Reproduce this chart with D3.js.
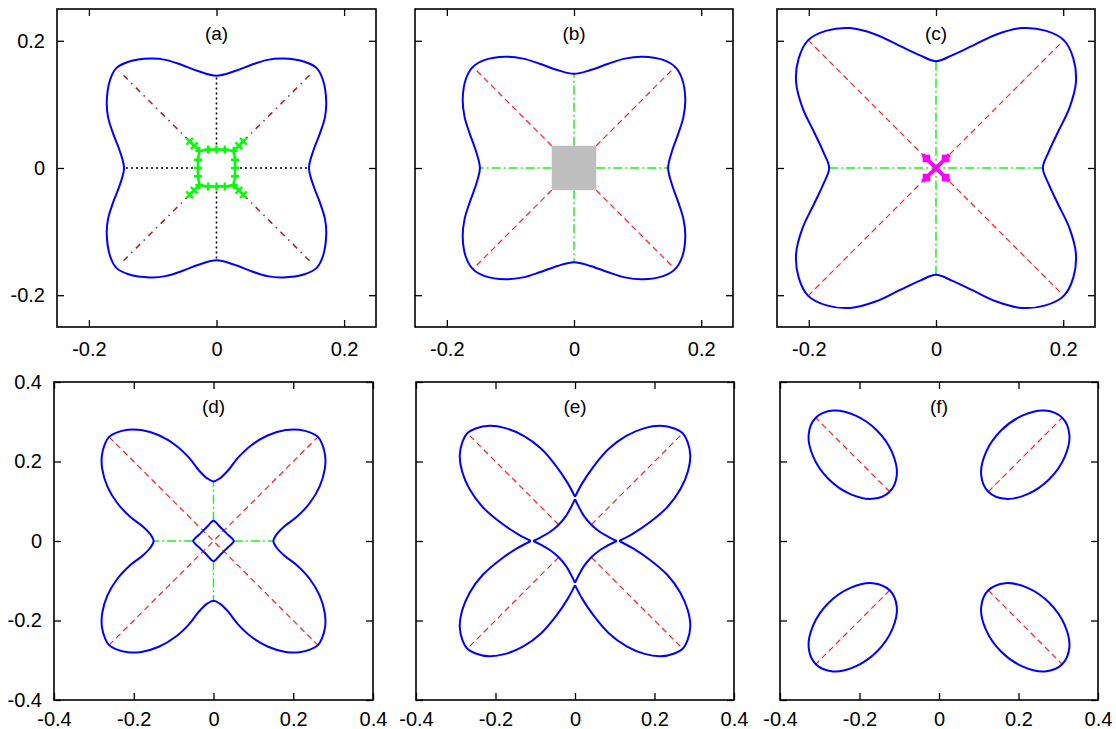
<!DOCTYPE html>
<html>
<head>
<meta charset="utf-8">
<script src="https://cdn.jsdelivr.net/npm/d3@7/dist/d3.min.js"></script>
<style>
  body { margin: 0; background: #fff; }
  svg text { font-family: "Liberation Sans", Arial, sans-serif; }
</style>
</head>
<body>
<div id="chart"></div>
<script>
// axis ticks and labels
const topDomain = [-0.25, 0.25];
const topTicks = [-0.2, 0, 0.2];
const bottomDomain = [-0.4, 0.4];
const bottomTicks = [-0.4, -0.2, 0, 0.2, 0.4];
const panelLabels = ["(a)", "(b)", "(c)", "(d)", "(e)", "(f)"];

// (a) outer boundary, green square (+) and diagonal arms (x)
const aCurve = [
  [0.145,0],[0.152,0.028],[0.162,0.054],[0.170,0.080],[0.172,0.104],[0.167,0.138],[0.157,0.157],[0.138,0.167],[0.104,0.172],[0.080,0.170],[0.054,0.162],[0.028,0.152],
  [0,0.145],[-0.028,0.152],[-0.054,0.162],[-0.080,0.170],[-0.104,0.172],[-0.138,0.167],[-0.157,0.157],[-0.167,0.138],[-0.172,0.104],[-0.170,0.080],[-0.162,0.054],[-0.152,0.028],
  [-0.145,0],[-0.152,-0.028],[-0.162,-0.054],[-0.170,-0.080],[-0.172,-0.104],[-0.167,-0.138],[-0.157,-0.157],[-0.138,-0.167],[-0.104,-0.172],[-0.080,-0.170],[-0.054,-0.162],[-0.028,-0.152],
  [0,-0.145],[0.028,-0.152],[0.054,-0.162],[0.080,-0.170],[0.104,-0.172],[0.138,-0.167],[0.157,-0.157],[0.167,-0.138],[0.172,-0.104],[0.170,-0.080],[0.162,-0.054],[0.152,-0.028]
];
const aSquare = [
  [-0.027,0.027],[-0.013,0.029],[0,0.029],[0.013,0.029],[0.027,0.027],[0.029,0.013],[0.029,0],[0.029,-0.013],
  [0.027,-0.027],[0.013,-0.029],[0,-0.029],[-0.013,-0.029],[-0.027,-0.027],[-0.029,-0.013],[-0.029,0],[-0.029,0.013]
];
const aArms = [
  [[0.027,0.027],[0.035,0.035],[0.042,0.042]],
  [[-0.027,0.027],[-0.035,0.035],[-0.042,0.042]],
  [[-0.027,-0.027],[-0.035,-0.035],[-0.042,-0.042]],
  [[0.027,-0.027],[0.035,-0.035],[0.042,-0.042]]
];
const aAxisLines = [
  [[0,0.029],[0,0.145]], [[0,-0.029],[0,-0.145]], [[0.029,0],[0.145,0]], [[-0.029,0],[-0.145,0]]
];
const aDiagLines = [
  [[0.042,0.042],[0.151,0.151]], [[-0.042,0.042],[-0.151,0.151]],
  [[-0.042,-0.042],[-0.151,-0.151]], [[0.042,-0.042],[0.151,-0.151]]
];

// (b) outer boundary and grey core
const bCurve = [
  [0.148,0],[0.154,0.026],[0.164,0.054],[0.172,0.080],[0.175,0.108],[0.170,0.140],[0.159,0.159],[0.140,0.170],[0.108,0.175],[0.080,0.172],[0.054,0.164],[0.026,0.154],
  [0,0.148],[-0.026,0.154],[-0.054,0.164],[-0.080,0.172],[-0.108,0.175],[-0.140,0.170],[-0.159,0.159],[-0.170,0.140],[-0.175,0.108],[-0.172,0.080],[-0.164,0.054],[-0.154,0.026],
  [-0.148,0],[-0.154,-0.026],[-0.164,-0.054],[-0.172,-0.080],[-0.175,-0.108],[-0.170,-0.140],[-0.159,-0.159],[-0.140,-0.170],[-0.108,-0.175],[-0.080,-0.172],[-0.054,-0.164],[-0.026,-0.154],
  [0,-0.148],[0.026,-0.154],[0.054,-0.164],[0.080,-0.172],[0.108,-0.175],[0.140,-0.170],[0.159,-0.159],[0.170,-0.140],[0.175,-0.108],[0.172,-0.080],[0.164,-0.054],[0.154,-0.026]
];
const bCore = [[-0.035,0.035],[0.035,-0.035]];
const bAxisLines = [
  [[0,0.035],[0,0.148]], [[0,-0.035],[0,-0.148]], [[0.035,0],[0.148,0]], [[-0.035,0],[-0.148,0]]
];
const bDiagLines = [
  [[0.035,0.035],[0.158,0.158]], [[-0.035,0.035],[-0.158,0.158]],
  [[-0.035,-0.035],[-0.158,-0.158]], [[0.035,-0.035],[0.158,-0.158]]
];

// (c) outer boundary and magenta core
const cCurve = [
  [0.168,0],[0.177,0.025],[0.192,0.057],[0.210,0.095],[0.220,0.135],[0.216,0.172],[0.201,0.201],[0.172,0.216],[0.135,0.220],[0.095,0.210],[0.057,0.192],[0.025,0.177],
  [0,0.168],[-0.025,0.177],[-0.057,0.192],[-0.095,0.210],[-0.135,0.220],[-0.172,0.216],[-0.201,0.201],[-0.216,0.172],[-0.220,0.135],[-0.210,0.095],[-0.192,0.057],[-0.177,0.025],
  [-0.168,0],[-0.177,-0.025],[-0.192,-0.057],[-0.210,-0.095],[-0.220,-0.135],[-0.216,-0.172],[-0.201,-0.201],[-0.172,-0.216],[-0.135,-0.220],[-0.095,-0.210],[-0.057,-0.192],[-0.025,-0.177],
  [0,-0.168],[0.025,-0.177],[0.057,-0.192],[0.095,-0.210],[0.135,-0.220],[0.172,-0.216],[0.201,-0.201],[0.216,-0.172],[0.220,-0.135],[0.210,-0.095],[0.192,-0.057],[0.177,-0.025]
];
const cCoreLines = [ [[-0.021,0.021],[0.021,-0.021]], [[-0.021,-0.021],[0.021,0.021]] ];
const cCorePoints = [[-0.015,0.015],[0.015,0.015],[-0.015,-0.015],[0.015,-0.015]];
const cAxisLines = [ [[0,-0.168],[0,0.168]], [[-0.168,0],[0.168,0]] ];
const cDiagLines = [ [[-0.201,-0.201],[0.201,0.201]], [[-0.201,0.201],[0.201,-0.201]] ];

// (d) outer boundary and inner loop
const dCurve = [
  [0.150,0],[0.157,0.015],[0.178,0.037],[0.209,0.061],[0.241,0.095],[0.266,0.137],[0.279,0.181],[0.280,0.215],[0.272,0.245],[0.262,0.262],[0.245,0.272],[0.215,0.280],[0.181,0.279],[0.137,0.266],[0.095,0.241],[0.061,0.209],[0.037,0.178],[0.015,0.157],
  [0,0.150],[-0.015,0.157],[-0.037,0.178],[-0.061,0.209],[-0.095,0.241],[-0.137,0.266],[-0.181,0.279],[-0.215,0.280],[-0.245,0.272],[-0.262,0.262],[-0.272,0.245],[-0.280,0.215],[-0.279,0.181],[-0.266,0.137],[-0.241,0.095],[-0.209,0.061],[-0.178,0.037],[-0.157,0.015],
  [-0.150,0],[-0.157,-0.015],[-0.178,-0.037],[-0.209,-0.061],[-0.241,-0.095],[-0.266,-0.137],[-0.279,-0.181],[-0.280,-0.215],[-0.272,-0.245],[-0.262,-0.262],[-0.245,-0.272],[-0.215,-0.280],[-0.181,-0.279],[-0.137,-0.266],[-0.095,-0.241],[-0.061,-0.209],[-0.037,-0.178],[-0.015,-0.157],
  [0,-0.150],[0.015,-0.157],[0.037,-0.178],[0.061,-0.209],[0.095,-0.241],[0.137,-0.266],[0.181,-0.279],[0.215,-0.280],[0.245,-0.272],[0.262,-0.262],[0.272,-0.245],[0.280,-0.215],[0.279,-0.181],[0.266,-0.137],[0.241,-0.095],[0.209,-0.061],[0.178,-0.037],[0.157,-0.015]
];
const dInner = [
  [0.051,0],[0.047,0.006],[0.037,0.015],[0.026,0.026],[0.015,0.037],[0.006,0.047],
  [0,0.051],[-0.006,0.047],[-0.015,0.037],[-0.026,0.026],[-0.037,0.015],[-0.047,0.006],
  [-0.051,0],[-0.047,-0.006],[-0.037,-0.015],[-0.026,-0.026],[-0.015,-0.037],[-0.006,-0.047],
  [0,-0.051],[0.006,-0.047],[0.015,-0.037],[0.026,-0.026],[0.037,-0.015],[0.047,-0.006]
];
const dAxisLines = [
  [[0,0.051],[0,0.150]], [[0,-0.051],[0,-0.150]], [[0.051,0],[0.150,0]], [[-0.051,0],[-0.150,0]]
];
const dDiagLines = [ [[-0.262,-0.262],[0.262,0.262]], [[-0.262,0.262],[0.262,-0.262]] ];

// (e) four petals meeting near the axes, and the inner star
const ePetals = [
  [[0.111,0],[0.145,0.018],[0.188,0.047],[0.232,0.085],[0.265,0.130],[0.284,0.175],[0.290,0.215],[0.283,0.250],[0.271,0.271],[0.250,0.283],[0.215,0.290],[0.175,0.284],[0.130,0.265],[0.085,0.232],[0.047,0.188],[0.018,0.145],[0,0.111]],
  [[0,0.111],[-0.018,0.145],[-0.047,0.188],[-0.085,0.232],[-0.130,0.265],[-0.175,0.284],[-0.215,0.290],[-0.250,0.283],[-0.271,0.271],[-0.283,0.250],[-0.290,0.215],[-0.284,0.175],[-0.265,0.130],[-0.232,0.085],[-0.188,0.047],[-0.145,0.018],[-0.111,0]],
  [[-0.111,0],[-0.145,-0.018],[-0.188,-0.047],[-0.232,-0.085],[-0.265,-0.130],[-0.284,-0.175],[-0.290,-0.215],[-0.283,-0.250],[-0.271,-0.271],[-0.250,-0.283],[-0.215,-0.290],[-0.175,-0.284],[-0.130,-0.265],[-0.085,-0.232],[-0.047,-0.188],[-0.018,-0.145],[0,-0.111]],
  [[0,-0.111],[0.018,-0.145],[0.047,-0.188],[0.085,-0.232],[0.130,-0.265],[0.175,-0.284],[0.215,-0.290],[0.250,-0.283],[0.271,-0.271],[0.283,-0.250],[0.290,-0.215],[0.284,-0.175],[0.265,-0.130],[0.232,-0.085],[0.188,-0.047],[0.145,-0.018],[0.111,0]]
];
const eInner = [
  [[0.105,0],[0.085,0.010],[0.064,0.022],[0.041,0.041],[0.022,0.064],[0.010,0.085],[0,0.105]],
  [[0,0.105],[-0.010,0.085],[-0.022,0.064],[-0.041,0.041],[-0.064,0.022],[-0.085,0.010],[-0.105,0]],
  [[-0.105,0],[-0.085,-0.010],[-0.064,-0.022],[-0.041,-0.041],[-0.022,-0.064],[-0.010,-0.085],[0,-0.105]],
  [[0,-0.105],[0.010,-0.085],[0.022,-0.064],[0.041,-0.041],[0.064,-0.022],[0.085,-0.010],[0.105,0]]
];
const eDiagLines = [
  [[0.041,0.041],[0.271,0.271]], [[-0.041,0.041],[-0.271,0.271]],
  [[-0.041,-0.041],[-0.271,-0.271]], [[0.041,-0.041],[0.271,-0.271]]
];

// (f) four separate loops
const fLoops = [
  [[0.310,0.310],[0.267,0.328],[0.211,0.316],[0.156,0.278],[0.118,0.223],[0.106,0.167],[0.124,0.124],[0.167,0.106],[0.223,0.118],[0.278,0.156],[0.316,0.211],[0.328,0.267]],
  [[-0.310,0.310],[-0.267,0.328],[-0.211,0.316],[-0.156,0.278],[-0.118,0.223],[-0.106,0.167],[-0.124,0.124],[-0.167,0.106],[-0.223,0.118],[-0.278,0.156],[-0.316,0.211],[-0.328,0.267]],
  [[-0.310,-0.310],[-0.267,-0.328],[-0.211,-0.316],[-0.156,-0.278],[-0.118,-0.223],[-0.106,-0.167],[-0.124,-0.124],[-0.167,-0.106],[-0.223,-0.118],[-0.278,-0.156],[-0.316,-0.211],[-0.328,-0.267]],
  [[0.310,-0.310],[0.267,-0.328],[0.211,-0.316],[0.156,-0.278],[0.118,-0.223],[0.106,-0.167],[0.124,-0.124],[0.167,-0.106],[0.223,-0.118],[0.278,-0.156],[0.316,-0.211],[0.328,-0.267]]
];
const fDiagLines = [
  [[0.124,0.124],[0.310,0.310]], [[-0.124,0.124],[-0.310,0.310]],
  [[-0.124,-0.124],[-0.310,-0.310]], [[0.124,-0.124],[0.310,-0.310]]
];

// styles
const BLUE = "#0000ff", RED = "#ff2020", GREEN = "#22ee22", BROWN = "#a52a2a", MAGENTA = "#ff00ff";

const svg = d3.select("#chart").append("svg")
  .attr("width", 1116)
  .attr("height", 729);

// panel frames in pixels
const panels = [
  { box: [57, 9, 376, 327],  domain: topDomain,    ticks: topTicks,    yLabels: true,  pad: 15 },
  { box: [415, 9, 733, 327], domain: topDomain,    ticks: topTicks,    yLabels: false, pad: 15 },
  { box: [777, 9, 1095, 327], domain: topDomain,   ticks: topTicks,    yLabels: false, pad: 15 },
  { box: [54, 382, 373, 700], domain: bottomDomain, ticks: bottomTicks, yLabels: true,  pad: 12 },
  { box: [416, 382, 734, 700], domain: bottomDomain, ticks: bottomTicks, yLabels: false, pad: 12 },
  { box: [780, 382, 1098, 700], domain: bottomDomain, ticks: bottomTicks, yLabels: false, pad: 12 }
];

const fmt = d => d === 0 ? "0" : String(d);

function setupPanel(p, i) {
  const [x0, y0, x1, y1] = p.box;
  const x = d3.scaleLinear().domain(p.domain).range([x0, x1]);
  const y = d3.scaleLinear().domain(p.domain).range([y1, y0]);
  const g = svg.append("g");

  const styleAxis = a => {
    a.select(".domain").remove();
    a.selectAll(".tick line").attr("stroke", "#000").attr("stroke-width", 1.3);
    a.selectAll("text").attr("fill", "#000").style("font-size", "20px")
      .style("font-family", "'Liberation Sans', Arial, sans-serif");
  };

  g.append("g").attr("transform", `translate(0,${y1})`)
    .call(d3.axisBottom(x).tickValues(p.ticks).tickSizeInner(-7).tickSizeOuter(0).tickPadding(p.pad).tickFormat(fmt))
    .call(styleAxis);
  g.append("g").attr("transform", `translate(0,${y0})`)
    .call(d3.axisTop(x).tickValues(p.ticks).tickSizeInner(-7).tickSizeOuter(0).tickFormat(""))
    .call(styleAxis);
  g.append("g").attr("transform", `translate(${x0},0)`)
    .call(d3.axisLeft(y).tickValues(p.ticks).tickSizeInner(-7).tickSizeOuter(0).tickPadding(12)
      .tickFormat(p.yLabels ? fmt : ""))
    .call(styleAxis);
  g.append("g").attr("transform", `translate(${x1},0)`)
    .call(d3.axisRight(y).tickValues(p.ticks).tickSizeInner(-7).tickSizeOuter(0).tickFormat(""))
    .call(styleAxis);

  g.append("rect")
    .attr("x", x0).attr("y", y0)
    .attr("width", x1 - x0).attr("height", y1 - y0)
    .attr("fill", "none").attr("stroke", "#000").attr("stroke-width", 1.6);

  g.append("text")
    .attr("x", x(0)).attr("y", y0 + 31)
    .attr("text-anchor", "middle")
    .style("font-size", "19px")
    .attr("fill", "#000")
    .text(panelLabels[i]);

  return { g, x, y };
}

function drawLines(P, segs, color, width, dash) {
  const line = d3.line().x(d => P.x(d[0])).y(d => P.y(d[1]));
  P.g.append("g").selectAll("path").data(segs).join("path")
    .attr("d", line)
    .attr("fill", "none")
    .attr("stroke", color)
    .attr("stroke-width", width)
    .attr("stroke-dasharray", dash);
}

function drawCurve(P, pts, closed, color, width) {
  const line = d3.line().x(d => P.x(d[0])).y(d => P.y(d[1]))
    .curve(closed ? d3.curveCatmullRomClosed.alpha(0.5) : d3.curveCatmullRom.alpha(0.5));
  P.g.append("path")
    .attr("d", line(pts))
    .attr("fill", "none")
    .attr("stroke", color)
    .attr("stroke-width", width)
    .attr("stroke-linejoin", "round");
}

const P = panels.map(setupPanel);

// thin dashed lines, kept slightly above 1px to avoid a hairline rendering glitch
const THIN = 1.2;

// (a)
drawLines(P[0], aAxisLines, "#000", 1.6, "2,3");
drawLines(P[0], aDiagLines, BROWN, 1.6, "6,5,1.5,5");
drawCurve(P[0], aCurve, true, BLUE, 2);
P[0].g.append("path")
  .attr("d", d3.line().x(d => P[0].x(d[0])).y(d => P[0].y(d[1]))(aSquare) + "Z")
  .attr("fill", "none").attr("stroke", "#00ff00").attr("stroke-width", 2.2);
drawLines(P[0], aArms, "#00ff00", 2.2, null);
P[0].g.append("g").selectAll("path").data(aSquare).join("path")
  .attr("transform", d => `translate(${P[0].x(d[0])},${P[0].y(d[1])})`)
  .attr("d", "M-4,0H4M0,-4V4")
  .attr("stroke", "#00ff00").attr("stroke-width", 2.4);
P[0].g.append("g").selectAll("path").data(aArms.flatMap(a => a.slice(1))).join("path")
  .attr("transform", d => `translate(${P[0].x(d[0])},${P[0].y(d[1])})`)
  .attr("d", "M-3.3,-3.3L3.3,3.3M-3.3,3.3L3.3,-3.3")
  .attr("stroke", "#00ff00").attr("stroke-width", 2.4);

// (b)
drawLines(P[1], bDiagLines, RED, THIN, "6,4");
drawLines(P[1], bAxisLines, GREEN, 1.5, "9,3,2,3");
P[1].g.append("rect")
  .attr("x", P[1].x(bCore[0][0])).attr("y", P[1].y(bCore[0][1]))
  .attr("width", P[1].x(bCore[1][0]) - P[1].x(bCore[0][0]))
  .attr("height", P[1].y(bCore[1][1]) - P[1].y(bCore[0][1]))
  .attr("fill", "#bebebe");
drawCurve(P[1], bCurve, true, BLUE, 2);

// (c)
drawLines(P[2], cDiagLines, RED, THIN, "6,4");
drawLines(P[2], cAxisLines, GREEN, 1.5, "9,3,2,3");
drawCurve(P[2], cCurve, true, BLUE, 2);
drawLines(P[2], cCoreLines, MAGENTA, 4, null);
P[2].g.append("g").selectAll("rect").data(cCorePoints).join("rect")
  .attr("x", d => P[2].x(d[0]) - 3.8).attr("y", d => P[2].y(d[1]) - 3.8)
  .attr("width", 7.6).attr("height", 7.6)
  .attr("fill", MAGENTA);

// (d)
drawLines(P[3], dDiagLines, RED, THIN, "6,4");
drawLines(P[3], dAxisLines, GREEN, 1.5, "9,3,2,3");
drawCurve(P[3], dCurve, true, BLUE, 2);
drawCurve(P[3], dInner, true, BLUE, 2);

// (e)
drawLines(P[4], eDiagLines, RED, THIN, "6,4");
ePetals.forEach(p => drawCurve(P[4], p, false, BLUE, 2));
eInner.forEach(p => drawCurve(P[4], p, false, BLUE, 2));

// (f)
drawLines(P[5], fDiagLines, RED, THIN, "6,4");
fLoops.forEach(p => drawCurve(P[5], p, true, BLUE, 2));
</script>
</body>
</html>
